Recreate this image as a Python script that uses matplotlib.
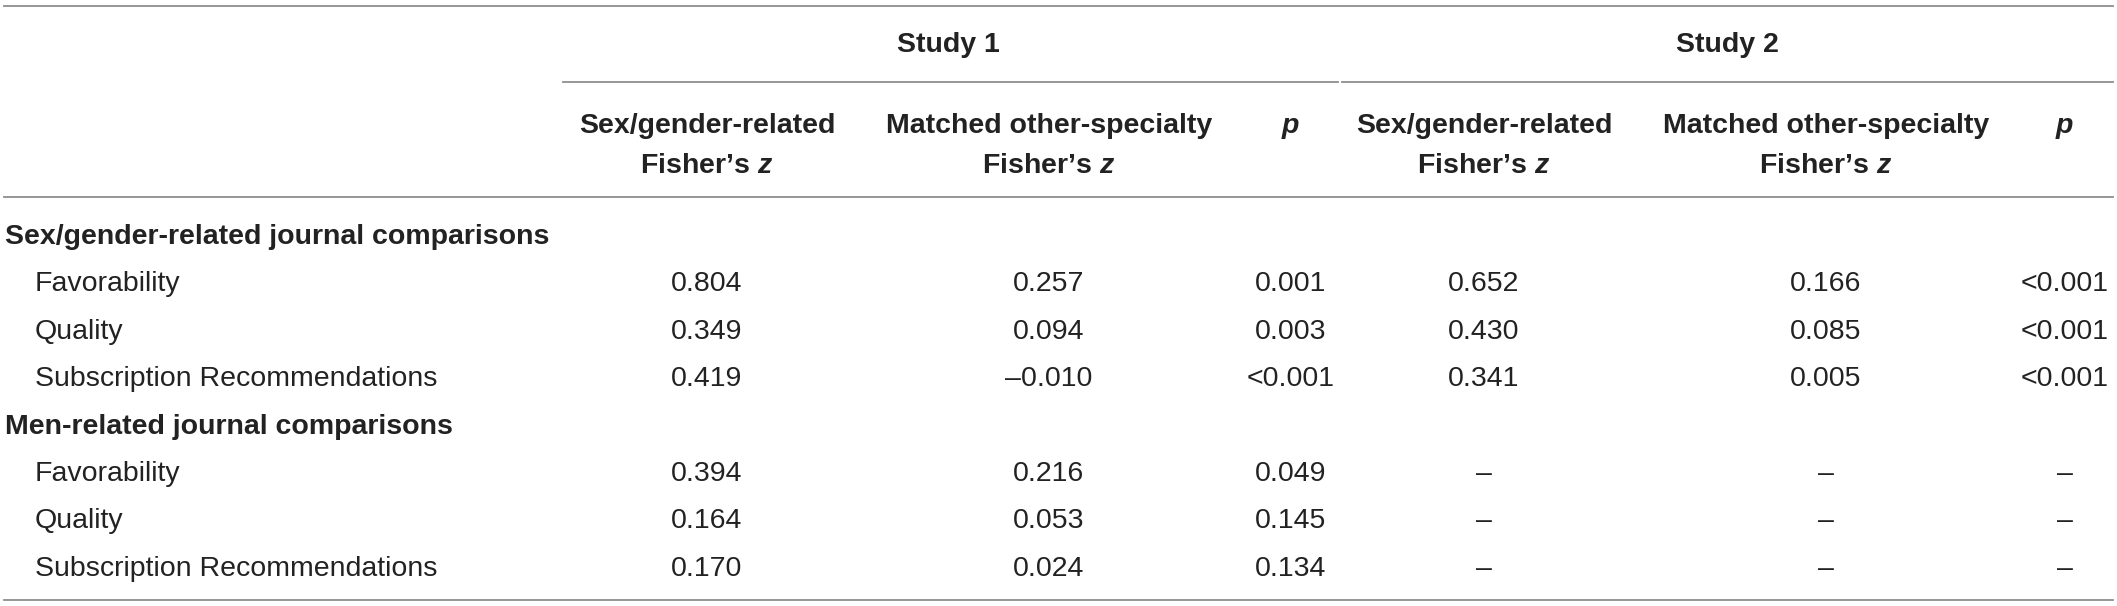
import matplotlib
matplotlib.use("Agg")
import matplotlib.pyplot as plt

plt.rcParams['font.family'] = ['Liberation Sans', 'DejaVu Sans']
plt.rcParams['mathtext.fontset'] = 'custom'
plt.rcParams['mathtext.it'] = 'Liberation Sans:italic:bold'
plt.rcParams['mathtext.rm'] = 'Liberation Sans:bold'

# table content
studies = ["Study 1", "Study 2"]
col_headers = [("Sex/gender-related", "Fisher’s $z$"),
               ("Matched other-specialty", "Fisher’s $z$"),
               ("$p$", "")]
groups = ["Sex/gender-related journal comparisons", "Men-related journal comparisons"]
measures = ["Favorability", "Quality", "Subscription Recommendations"]

# Study 1
s1_sex_z = [0.804, 0.349, 0.419, 0.394, 0.164, 0.170]
s1_other_z = [0.257, 0.094, -0.010, 0.216, 0.053, 0.024]
s1_p = ["0.001", "0.003", "<0.001", "0.049", "0.145", "0.134"]
# Study 2 (no men-related comparisons)
s2_sex_z = [0.652, 0.430, 0.341, None, None, None]
s2_other_z = [0.166, 0.085, 0.005, None, None, None]
s2_p = ["<0.001", "<0.001", "<0.001", None, None, None]


def fmt(v):
    if v is None:
        return "–"
    if isinstance(v, str):
        return v
    return "{:.3f}".format(v).replace("-", "–")


W, H = 2117, 606
fig = plt.figure(figsize=(W / 100, H / 100), dpi=100)
ax = fig.add_axes([0, 0, 1, 1])
ax.set_xlim(0, W)
ax.set_ylim(H, 0)
ax.axis('off')

txt = '#222222'
rule = '#8e8e8e'
fs = 20.5

col_x = [707, 1049, 1291, 1484, 1826, 2065]
study_x = [948, 1727]

# rules
ax.plot([4, 2113], [6, 6], color=rule, lw=1.3)
ax.plot([563, 1338], [82, 82], color=rule, lw=1.3)
ax.plot([1342, 2113], [82, 82], color=rule, lw=1.3)
ax.plot([4, 2113], [197, 197], color=rule, lw=1.3)
ax.plot([4, 2113], [600, 600], color=rule, lw=1.3)

# header
for sx, s in zip(study_x, studies):
    ax.text(sx, 52, s, ha='center', va='baseline', fontsize=fs, fontweight='bold', color=txt)
for i, x in enumerate(col_x):
    l1, l2 = col_headers[i % 3]
    ax.text(x, 133, l1, ha='center', va='baseline', fontsize=fs, fontweight='bold', color=txt)
    if l2:
        ax.text(x, 173, l2, ha='center', va='baseline', fontsize=fs, fontweight='bold', color=txt)

# body
columns = [s1_sex_z, s1_other_z, s1_p, s2_sex_z, s2_other_z, s2_p]
step = 47.4
y = 244
r = 0
for g, grp in enumerate(groups):
    ax.text(5, y, grp, ha='left', va='baseline', fontsize=fs, fontweight='bold', color=txt)
    y += step
    for m in measures:
        ax.text(35, y, m, ha='left', va='baseline', fontsize=fs, color=txt)
        for x, col in zip(col_x, columns):
            ax.text(x, y, fmt(col[r]), ha='center', va='baseline', fontsize=fs, color=txt)
        r += 1
        y += step

plt.savefig("out.png", dpi=100)
